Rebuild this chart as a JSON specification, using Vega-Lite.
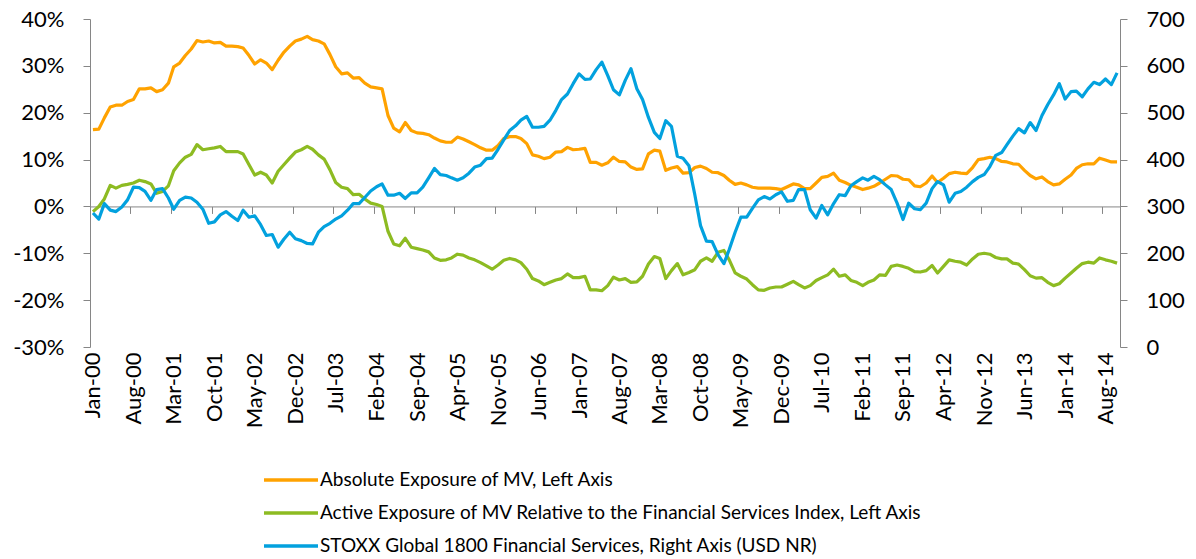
{
  "$schema": "https://vega.github.io/schema/vega-lite/v6.json",
  "width": 1030,
  "height": 328,
  "autosize": {"type": "none"},
  "padding": {"left": 90, "top": 19, "right": 76, "bottom": 212},
  "background": "white",
  "config": {
    "font": "Lato",
    "view": {"stroke": null},
    "axis": {"labelFont": "Lato", "labelFontSize": 22, "labelColor": "#000000", "domainColor": "#868686", "tickColor": "#868686", "grid": false, "title": null}
  },
  "data": {"values": [
    {"m":"2000-01","a":16.4,"r":-1.1,"s":286},{"m":"2000-02","a":16.5,"r":0.0,"s":273},{"m":"2000-03","a":18.9,"r":1.6,"s":306},{"m":"2000-04","a":21.2,"r":4.5,"s":292},{"m":"2000-05","a":21.6,"r":3.9,"s":289},{"m":"2000-06","a":21.6,"r":4.5,"s":299},{"m":"2000-07","a":22.4,"r":4.7,"s":314},{"m":"2000-08","a":22.8,"r":5.0,"s":341},{"m":"2000-09","a":25.1,"r":5.6,"s":340},{"m":"2000-10","a":25.1,"r":5.3,"s":332},{"m":"2000-11","a":25.3,"r":4.8,"s":313},{"m":"2000-12","a":24.5,"r":2.8,"s":336},
    {"m":"2001-01","a":24.9,"r":3.2,"s":338},{"m":"2001-02","a":26.3,"r":4.4,"s":318},{"m":"2001-03","a":29.8,"r":7.6,"s":294},{"m":"2001-04","a":30.6,"r":9.3,"s":313},{"m":"2001-05","a":32.2,"r":10.5,"s":320},{"m":"2001-06","a":33.6,"r":11.1,"s":318},{"m":"2001-07","a":35.4,"r":13.2,"s":309},{"m":"2001-08","a":35.1,"r":12.1,"s":294},{"m":"2001-09","a":35.3,"r":12.3,"s":264},{"m":"2001-10","a":34.9,"r":12.5,"s":267},{"m":"2001-11","a":35.0,"r":12.8,"s":282},{"m":"2001-12","a":34.2,"r":11.7,"s":289},
    {"m":"2002-01","a":34.2,"r":11.7,"s":279},{"m":"2002-02","a":34.1,"r":11.7,"s":270},{"m":"2002-03","a":33.8,"r":11.2,"s":292},{"m":"2002-04","a":32.2,"r":8.9,"s":277},{"m":"2002-05","a":30.4,"r":6.7,"s":280},{"m":"2002-06","a":31.3,"r":7.3,"s":261},{"m":"2002-07","a":30.6,"r":6.7,"s":238},{"m":"2002-08","a":29.2,"r":5.0,"s":240},{"m":"2002-09","a":31.2,"r":7.5,"s":213},{"m":"2002-10","a":32.9,"r":8.9,"s":230},{"m":"2002-11","a":34.2,"r":10.3,"s":245},{"m":"2002-12","a":35.3,"r":11.6,"s":231},
    {"m":"2003-01","a":35.7,"r":12.1,"s":227},{"m":"2003-02","a":36.3,"r":12.8,"s":221},{"m":"2003-03","a":35.6,"r":12.2,"s":220},{"m":"2003-04","a":35.3,"r":11.0,"s":245},{"m":"2003-05","a":34.7,"r":10.1,"s":257},{"m":"2003-06","a":32.4,"r":7.8,"s":264},{"m":"2003-07","a":29.8,"r":5.1,"s":273},{"m":"2003-08","a":28.3,"r":4.1,"s":280},{"m":"2003-09","a":28.5,"r":3.8,"s":292},{"m":"2003-10","a":27.4,"r":2.5,"s":306},{"m":"2003-11","a":27.5,"r":2.6,"s":306},{"m":"2003-12","a":26.3,"r":1.6,"s":319},
    {"m":"2004-01","a":25.5,"r":0.7,"s":333},{"m":"2004-02","a":25.3,"r":0.4,"s":342},{"m":"2004-03","a":25.1,"r":0.0,"s":348},{"m":"2004-04","a":19.4,"r":-5.3,"s":324},{"m":"2004-05","a":16.7,"r":-8.0,"s":324},{"m":"2004-06","a":15.9,"r":-8.4,"s":328},{"m":"2004-07","a":17.9,"r":-6.8,"s":317},{"m":"2004-08","a":16.2,"r":-8.7,"s":329},{"m":"2004-09","a":15.7,"r":-9.0,"s":329},{"m":"2004-10","a":15.6,"r":-9.3,"s":341},{"m":"2004-11","a":15.3,"r":-9.7,"s":361},{"m":"2004-12","a":14.6,"r":-11.0,"s":381},
    {"m":"2005-01","a":14.0,"r":-11.5,"s":368},{"m":"2005-02","a":13.7,"r":-11.4,"s":366},{"m":"2005-03","a":13.7,"r":-11.0,"s":361},{"m":"2005-04","a":14.8,"r":-10.2,"s":356},{"m":"2005-05","a":14.4,"r":-10.4,"s":361},{"m":"2005-06","a":13.8,"r":-11.0,"s":371},{"m":"2005-07","a":13.2,"r":-11.4,"s":384},{"m":"2005-08","a":12.5,"r":-12.0,"s":388},{"m":"2005-09","a":12.0,"r":-12.7,"s":402},{"m":"2005-10","a":12.0,"r":-13.4,"s":403},{"m":"2005-11","a":13.0,"r":-12.5,"s":422},{"m":"2005-12","a":14.5,"r":-11.5,"s":442},
    {"m":"2006-01","a":14.9,"r":-11.1,"s":462},{"m":"2006-02","a":14.9,"r":-11.4,"s":472},{"m":"2006-03","a":14.5,"r":-12.0,"s":484},{"m":"2006-04","a":13.4,"r":-13.4,"s":492},{"m":"2006-05","a":11.0,"r":-15.4,"s":469},{"m":"2006-06","a":10.7,"r":-15.9,"s":469},{"m":"2006-07","a":10.2,"r":-16.7,"s":471},{"m":"2006-08","a":10.5,"r":-16.2,"s":484},{"m":"2006-09","a":11.6,"r":-15.7,"s":505},{"m":"2006-10","a":11.7,"r":-15.4,"s":528},{"m":"2006-11","a":12.6,"r":-14.4,"s":540},{"m":"2006-12","a":12.1,"r":-15.2,"s":562},
    {"m":"2007-01","a":12.2,"r":-15.2,"s":583},{"m":"2007-02","a":12.4,"r":-14.9,"s":571},{"m":"2007-03","a":9.4,"r":-17.8,"s":572},{"m":"2007-04","a":9.4,"r":-17.8,"s":592},{"m":"2007-05","a":8.8,"r":-18.0,"s":608},{"m":"2007-06","a":9.3,"r":-16.9,"s":579},{"m":"2007-07","a":10.5,"r":-15.1,"s":549},{"m":"2007-08","a":9.6,"r":-15.7,"s":538},{"m":"2007-09","a":9.5,"r":-15.4,"s":569},{"m":"2007-10","a":8.4,"r":-16.2,"s":594},{"m":"2007-11","a":7.9,"r":-16.1,"s":551},{"m":"2007-12","a":8.0,"r":-14.9,"s":528},
    {"m":"2008-01","a":11.2,"r":-12.3,"s":490},{"m":"2008-02","a":12.0,"r":-10.7,"s":458},{"m":"2008-03","a":11.8,"r":-11.1,"s":445},{"m":"2008-04","a":7.7,"r":-15.4,"s":483},{"m":"2008-05","a":8.2,"r":-13.7,"s":471},{"m":"2008-06","a":8.5,"r":-12.2,"s":407},{"m":"2008-07","a":7.1,"r":-14.6,"s":403},{"m":"2008-08","a":7.2,"r":-14.1,"s":387},{"m":"2008-09","a":8.3,"r":-13.5,"s":325},{"m":"2008-10","a":8.6,"r":-11.7,"s":259},{"m":"2008-11","a":8.1,"r":-11.0,"s":226},{"m":"2008-12","a":7.3,"r":-11.7,"s":225},
    {"m":"2009-01","a":7.2,"r":-9.8,"s":197},{"m":"2009-02","a":6.6,"r":-9.4,"s":178},{"m":"2009-03","a":5.6,"r":-11.4,"s":208},{"m":"2009-04","a":4.7,"r":-14.2,"s":245},{"m":"2009-05","a":5.0,"r":-14.9,"s":277},{"m":"2009-06","a":4.6,"r":-15.5,"s":277},{"m":"2009-07","a":4.1,"r":-16.7,"s":296},{"m":"2009-08","a":3.9,"r":-17.8,"s":314},{"m":"2009-09","a":3.9,"r":-17.9,"s":321},{"m":"2009-10","a":3.9,"r":-17.4,"s":316},{"m":"2009-11","a":3.8,"r":-17.2,"s":325},{"m":"2009-12","a":3.6,"r":-17.2,"s":331},
    {"m":"2010-01","a":4.2,"r":-16.6,"s":311},{"m":"2010-02","a":4.8,"r":-16.0,"s":313},{"m":"2010-03","a":4.6,"r":-16.7,"s":336},{"m":"2010-04","a":3.8,"r":-17.4,"s":336},{"m":"2010-05","a":3.8,"r":-16.9,"s":293},{"m":"2010-06","a":5.0,"r":-15.8,"s":275},{"m":"2010-07","a":6.2,"r":-15.2,"s":302},{"m":"2010-08","a":6.4,"r":-14.6,"s":282},{"m":"2010-09","a":7.1,"r":-13.4,"s":306},{"m":"2010-10","a":5.6,"r":-14.9,"s":325},{"m":"2010-11","a":5.1,"r":-14.6,"s":323},{"m":"2010-12","a":4.5,"r":-15.8,"s":344},
    {"m":"2011-01","a":4.1,"r":-16.2,"s":353},{"m":"2011-02","a":3.6,"r":-16.9,"s":361},{"m":"2011-03","a":3.9,"r":-16.2,"s":356},{"m":"2011-04","a":4.3,"r":-15.7,"s":364},{"m":"2011-05","a":5.0,"r":-14.6,"s":357},{"m":"2011-06","a":5.8,"r":-14.7,"s":346},{"m":"2011-07","a":6.6,"r":-12.8,"s":336},{"m":"2011-08","a":6.5,"r":-12.5,"s":307},{"m":"2011-09","a":5.8,"r":-12.8,"s":272},{"m":"2011-10","a":5.7,"r":-13.2,"s":307},{"m":"2011-11","a":4.4,"r":-13.9,"s":295},{"m":"2011-12","a":4.2,"r":-14.0,"s":293},
    {"m":"2012-01","a":5.0,"r":-13.7,"s":307},{"m":"2012-02","a":6.5,"r":-12.6,"s":338},{"m":"2012-03","a":5.1,"r":-14.2,"s":353},{"m":"2012-04","a":6.0,"r":-12.8,"s":346},{"m":"2012-05","a":7.0,"r":-11.4,"s":309},{"m":"2012-06","a":7.3,"r":-11.7,"s":328},{"m":"2012-07","a":7.1,"r":-11.9,"s":332},{"m":"2012-08","a":7.0,"r":-12.5,"s":341},{"m":"2012-09","a":8.3,"r":-11.2,"s":353},{"m":"2012-10","a":10.0,"r":-10.2,"s":362},{"m":"2012-11","a":10.2,"r":-10.0,"s":368},{"m":"2012-12","a":10.5,"r":-10.2,"s":385},
    {"m":"2013-01","a":10.2,"r":-10.9,"s":409},{"m":"2013-02","a":9.6,"r":-11.2,"s":415},{"m":"2013-03","a":9.5,"r":-11.2,"s":432},{"m":"2013-04","a":9.1,"r":-12.1,"s":450},{"m":"2013-05","a":9.0,"r":-12.3,"s":466},{"m":"2013-06","a":7.7,"r":-13.5,"s":457},{"m":"2013-07","a":6.6,"r":-14.8,"s":479},{"m":"2013-08","a":5.9,"r":-15.3,"s":462},{"m":"2013-09","a":6.3,"r":-15.2,"s":494},{"m":"2013-10","a":5.3,"r":-16.2,"s":517},{"m":"2013-11","a":4.6,"r":-16.9,"s":538},{"m":"2013-12","a":4.8,"r":-16.5,"s":562},
    {"m":"2014-01","a":5.8,"r":-15.3,"s":529},{"m":"2014-02","a":6.7,"r":-14.2,"s":545},{"m":"2014-03","a":8.1,"r":-13.2,"s":546},{"m":"2014-04","a":8.9,"r":-12.2,"s":534},{"m":"2014-05","a":9.1,"r":-11.9,"s":551},{"m":"2014-06","a":9.1,"r":-12.1,"s":565},{"m":"2014-07","a":10.3,"r":-11.0,"s":560},{"m":"2014-08","a":9.9,"r":-11.4,"s":572},{"m":"2014-09","a":9.5,"r":-11.7,"s":560},{"m":"2014-10","a":9.5,"r":-12.1,"s":585}
  ]},
  "layer": [
    {
      "transform": [{"fold": ["a", "r"], "as": ["k", "v"]}],
      "mark": {"type": "line", "strokeWidth": 3.2, "strokeJoin": "round"},
      "encoding": {
        "x": {
          "field": "m", "type": "temporal",
          "scale": {"type": "utc", "domain": [{"year": 1999, "month": 12, "date": 16, "hours": 12, "utc": true}, {"year": 2014, "month": 10, "date": 16, "hours": 12, "utc": true}]},
          "axis": {
            "orient": "bottom", "domain": false, "ticks": false, "labelAngle": 270, "labelPadding": 5,
            "labelExpr": "utcFormat(datum.value, '%b-%y')",
            "values": [
              {"year":2000,"month":1,"date":1,"utc":true},{"year":2000,"month":8,"date":1,"utc":true},{"year":2001,"month":3,"date":1,"utc":true},{"year":2001,"month":10,"date":1,"utc":true},{"year":2002,"month":5,"date":1,"utc":true},{"year":2002,"month":12,"date":1,"utc":true},{"year":2003,"month":7,"date":1,"utc":true},{"year":2004,"month":2,"date":1,"utc":true},{"year":2004,"month":9,"date":1,"utc":true},{"year":2005,"month":4,"date":1,"utc":true},{"year":2005,"month":11,"date":1,"utc":true},{"year":2006,"month":6,"date":1,"utc":true},{"year":2007,"month":1,"date":1,"utc":true},{"year":2007,"month":8,"date":1,"utc":true},{"year":2008,"month":3,"date":1,"utc":true},{"year":2008,"month":10,"date":1,"utc":true},{"year":2009,"month":5,"date":1,"utc":true},{"year":2009,"month":12,"date":1,"utc":true},{"year":2010,"month":7,"date":1,"utc":true},{"year":2011,"month":2,"date":1,"utc":true},{"year":2011,"month":9,"date":1,"utc":true},{"year":2012,"month":4,"date":1,"utc":true},{"year":2012,"month":11,"date":1,"utc":true},{"year":2013,"month":6,"date":1,"utc":true},{"year":2014,"month":1,"date":1,"utc":true},{"year":2014,"month":8,"date":1,"utc":true}
            ]
          }
        },
        "y": {
          "field": "v", "type": "quantitative",
          "scale": {"domain": [-30, 40], "nice": false, "zero": false},
          "axis": {"orient": "left", "values": [-30, -20, -10, 0, 10, 20, 30, 40], "labelExpr": "datum.value + '%'", "tickSize": 7, "labelPadding": 19}
        },
        "color": {
          "field": "k", "type": "nominal",
          "scale": {"domain": ["a", "r", "s"], "range": ["#FFA200", "#8DBB22", "#02A1DE"]},
          "legend": {
            "orient": "none", "legendX": 190, "legendY": 450, "direction": "vertical", "title": null,
            "symbolType": "M-3,0H3", "symbolSize": 324, "symbolStrokeWidth": 3.5, "symbolFillColor": null,
            "labelFont": "Lato", "labelFontSize": 19, "labelColor": "#000000", "labelOffset": 18, "labelLimit": 0, "rowPadding": 12, "padding": 0,
            "labelExpr": "datum.value == 'a' ? 'Absolute Exposure of MV, Left Axis' : datum.value == 'r' ? 'Active Exposure of MV Relative to the Financial Services Index, Left Axis' : 'STOXX Global 1800 Financial Services, Right Axis (USD NR)'"
          }
        }
      }
    },
    {
      "transform": [{"fold": ["s"], "as": ["k", "v"]}],
      "mark": {"type": "line", "strokeWidth": 3.2, "strokeJoin": "round"},
      "encoding": {
        "x": {
          "field": "m", "type": "temporal",
          "axis": {
            "orient": "bottom", "offset": -140.57, "labels": false, "domain": true, "ticks": true, "tickSize": 7,
            "values": [
              {"year":1999,"month":12,"date":16,"hours":12,"utc":true},{"year":2000,"month":7,"date":16,"utc":true},{"year":2001,"month":2,"date":15,"utc":true},{"year":2001,"month":9,"date":16,"utc":true},{"year":2002,"month":4,"date":16,"utc":true},{"year":2002,"month":11,"date":16,"utc":true},{"year":2003,"month":6,"date":16,"utc":true},{"year":2004,"month":1,"date":16,"utc":true},{"year":2004,"month":8,"date":16,"utc":true},{"year":2005,"month":3,"date":16,"utc":true},{"year":2005,"month":10,"date":16,"utc":true},{"year":2006,"month":5,"date":16,"utc":true},{"year":2006,"month":12,"date":16,"utc":true},{"year":2007,"month":7,"date":16,"utc":true},{"year":2008,"month":2,"date":15,"utc":true},{"year":2008,"month":9,"date":16,"utc":true},{"year":2009,"month":4,"date":16,"utc":true},{"year":2009,"month":11,"date":16,"utc":true},{"year":2010,"month":6,"date":16,"utc":true},{"year":2011,"month":1,"date":16,"utc":true},{"year":2011,"month":8,"date":16,"utc":true},{"year":2012,"month":3,"date":16,"utc":true},{"year":2012,"month":10,"date":16,"utc":true},{"year":2013,"month":5,"date":16,"utc":true},{"year":2013,"month":12,"date":16,"utc":true},{"year":2014,"month":7,"date":16,"utc":true}
            ]
          }
        },
        "y": {
          "field": "v", "type": "quantitative",
          "scale": {"domain": [0, 700], "nice": false, "zero": false},
          "axis": {"orient": "right", "values": [0, 100, 200, 300, 400, 500, 600, 700], "tickSize": 7, "labelPadding": 19}
        },
        "color": {"field": "k", "type": "nominal"}
      }
    }
  ],
  "resolve": {"scale": {"y": "independent"}, "axis": {"x": "independent", "y": "independent"}}
}
